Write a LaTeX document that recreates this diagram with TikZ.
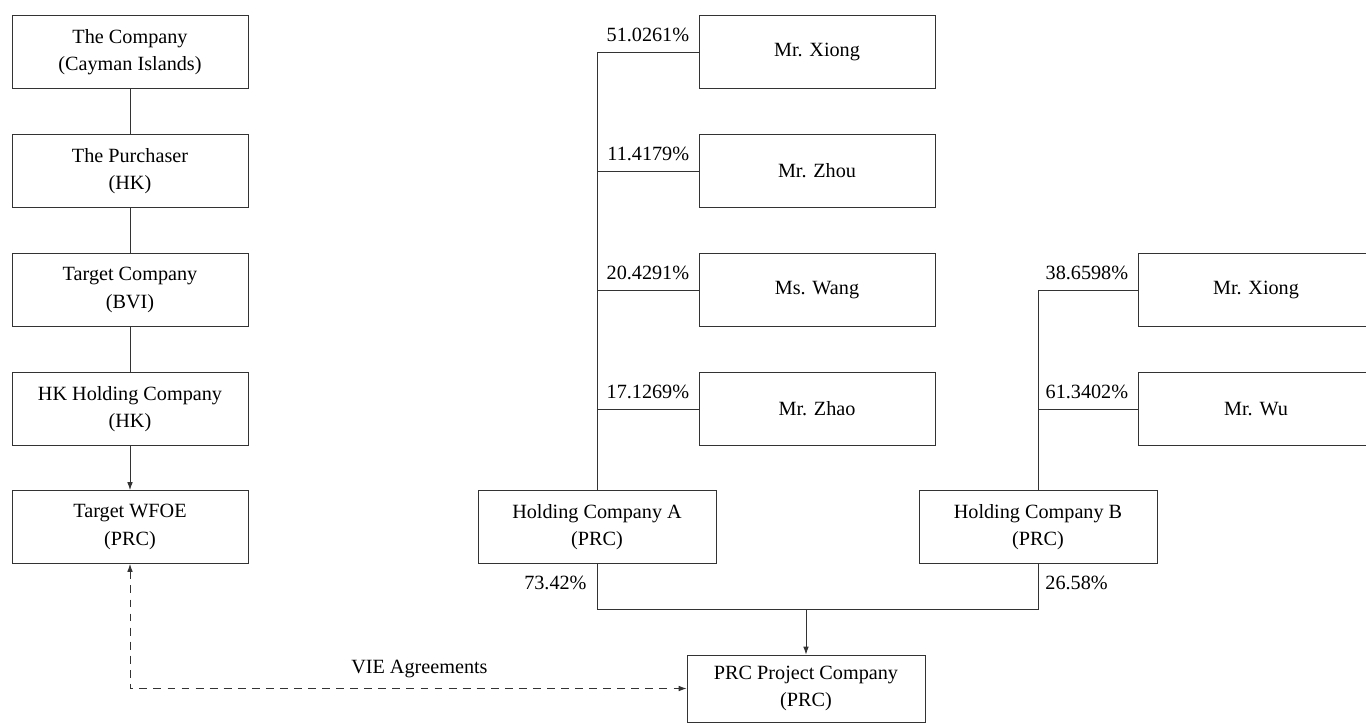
\documentclass[tikz,border=0pt]{standalone}
\usepackage{fontspec}
\setmainfont{Liberation Serif}
\usetikzlibrary{arrows.meta}

\begin{document}
\begin{tikzpicture}[x=0.02cm,y=-0.02cm,
    line width=0.5pt,draw=black!80,
    >={Latex[length=4.5pt,width=3.2pt]},
    font=\fontsize{11.5}{15.5}\selectfont,
    box/.style={draw,minimum width=4.72cm,minimum height=1.46cm,align=center,inner sep=2pt},
    wbox/.style={box,minimum width=4.76cm},
    pct/.style={inner sep=0pt}]
    \clip (0,0) rectangle (1366,725);
    % left chain
    \node[box] (company)   at (130,52)  {The Company\\(Cayman Islands)};
    \node[box] (purchaser) at (130,171) {The Purchaser\\(HK)};
    \node[box] (target)    at (130,290) {Target Company\\(BVI)};
    \node[box] (hkhold)    at (130,409) {HK Holding Company\\(HK)};
    \node[box] (wfoe)      at (130,527) {Target WFOE\\(PRC)};
    \draw (company) -- (purchaser);
    \draw (purchaser) -- (target);
    \draw (target) -- (hkhold);
    \draw[->] (hkhold) -- (wfoe);
    % shareholders of holding company A
    \foreach \n/\name/\y in {xiongA/Mr. Xiong/52, zhouA/Mr. Zhou/171, wangA/Ms. Wang/290, zhaoA/Mr. Zhao/409}
	\node[box] (\n) at (817,\y) {\name};
    % shareholders of holding company B
    \node[box] (xiongB) at (1256,290) {Mr. Xiong};
    \node[box] (wuB)    at (1256,409) {Mr. Wu};
    \node[wbox] (holdA) at (597,527)  {Holding Company A\\(PRC)};
    \node[wbox] (holdB) at (1038,527) {Holding Company B\\(PRC)};
    \node[wbox,minimum height=1.34cm] (prc) at (806,688.5) {PRC Project Company\\(PRC)};
    \draw (holdA.north) |- (xiongA.west);
    \foreach \n in {zhouA, wangA, zhaoA}
	\draw (holdA.north |- \n.west) -- (\n.west);
    \draw (holdB.north) |- (xiongB.west);
    \draw (holdB.north |- wuB.west) -- (wuB.west);
    \foreach \n/\p in {xiongA/51.0261, zhouA/11.4179, wangA/20.4291, zhaoA/17.1269, xiongB/38.6598, wuB/61.3402}
	\node[pct,anchor=base east] at ([xshift=-0.18cm,yshift=0.22cm]\n.west) {\p\%};
    % holding companies to project company
    \coordinate (join) at (806,609);
    \draw (holdA.south) |- (join) -| (holdB.south);
    \draw[->] (join) -- (prc.north);
    \node[pct,anchor=base east] at ([xshift=-0.2cm,yshift=-0.52cm]holdA.south) {73.42\%};
    \node[pct,anchor=base west] at ([xshift=0.14cm,yshift=-0.52cm]holdB.south) {26.58\%};
    % VIE
    \draw[<->,dash pattern=on 4.5pt off 3.5pt] (wfoe.south) |- (prc.west)
        node[pct,pos=0.76,above=0.2cm] {VIE Agreements};
\end{tikzpicture}
\end{document}
